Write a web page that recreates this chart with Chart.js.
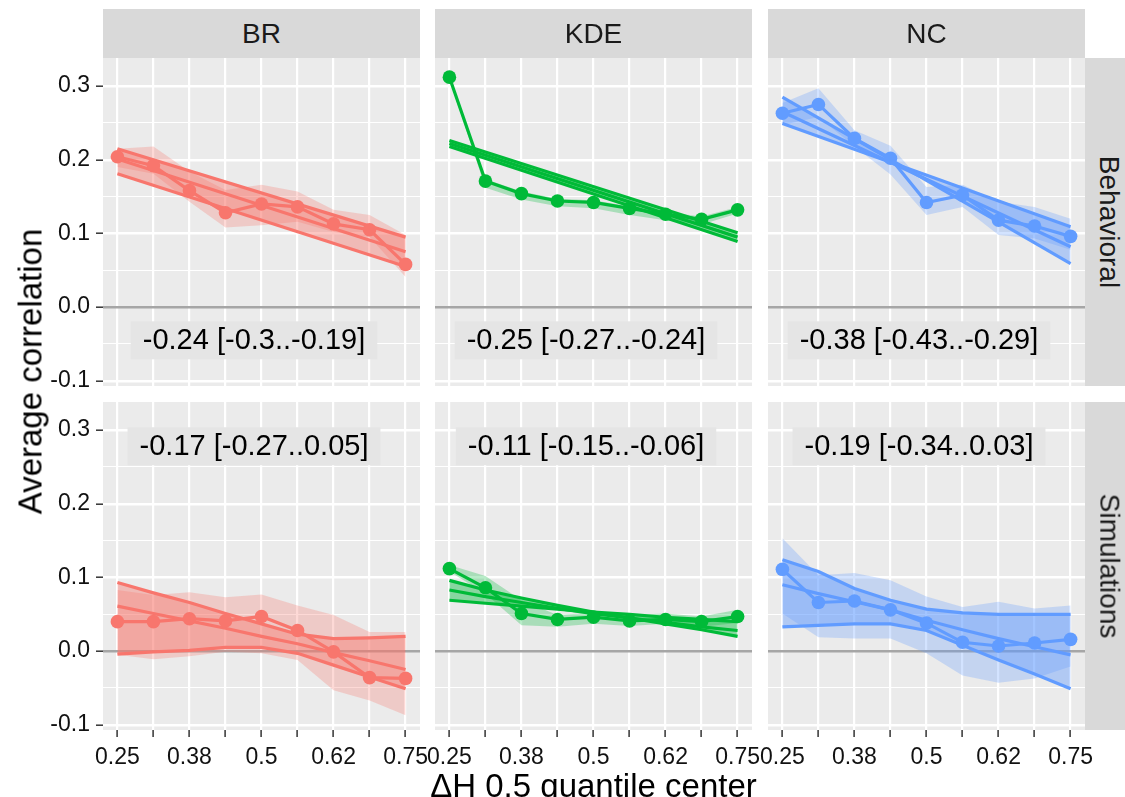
<!DOCTYPE html>
<html>
<head>
<meta charset="utf-8">
<script src="https://cdn.jsdelivr.net/npm/chart.js@4.4.0/dist/chart.umd.min.js"></script>
<style>
html, body { margin: 0; padding: 0; background: #fff; overflow: hidden; width: 1125px; height: 797px; }
body { position: relative; font-family: "Liberation Sans", Arial, Helvetica, sans-serif; }
.panel { position: absolute; }
.strip { position: absolute; background: #d9d9d9; color: #1a1a1a; font-size: 28px;
         display: flex; align-items: center; justify-content: center; }
.strip span { white-space: nowrap; }
.rstrip span { transform: rotate(90deg); }
.title { position: absolute; color: #000; font-size: 33px; white-space: nowrap; line-height: 33px; }
</style>
</head>
<body>
<div id="root"></div>
<script>
// x positions: centers of the 0.5 quantile windows
const xValues = [0.25, 0.3125, 0.375, 0.4375, 0.5, 0.5625, 0.625, 0.6875, 0.75];
const xTickLabels = ['0.25', '', '0.38', '', '0.5', '', '0.62', '', '0.75'];
const xFitEnds = [0.25, 0.75];
const yTicks = [-0.1, -0.05, 0, 0.05, 0.1, 0.15, 0.2, 0.25, 0.3];
const yTickLabels = ['-0.1', '', '0.0', '', '0.1', '', '0.2', '', '0.3'];
const methods = ['BR', 'KDE', 'NC'];
const sources = ['Behavioral', 'Simulations'];
const colors = ['#F8766D', '#00BA38', '#619CFF'];

// Behavioral
const brBehMean = [0.204, 0.192, 0.158, 0.128, 0.140, 0.136, 0.113, 0.105, 0.058];
const brBehHi   = [0.215, 0.218, 0.184, 0.159, 0.166, 0.157, 0.132, 0.125, 0.098];
const brBehLo   = [0.190, 0.181, 0.143, 0.108, 0.111, 0.116, 0.102, 0.095, 0.041];
const brBehFitA = [0.215, 0.095];
const brBehFitB = [0.201, 0.075];
const brBehFitC = [0.181, 0.055];

const kdeBehMean = [0.312, 0.171, 0.154, 0.144, 0.142, 0.134, 0.126, 0.119, 0.132];
const kdeBehHi   = [0.314, 0.174, 0.157, 0.147, 0.145, 0.137, 0.129, 0.123, 0.136];
const kdeBehLo   = [0.309, 0.162, 0.146, 0.137, 0.134, 0.125, 0.118, 0.112, 0.127];
const kdeBehFitA = [0.226, 0.101];
const kdeBehFitB = [0.222, 0.095];
const kdeBehFitC = [0.218, 0.089];

const ncBehMean = [0.263, 0.275, 0.229, 0.202, 0.142, 0.152, 0.118, 0.110, 0.096];
const ncBehHi   = [0.277, 0.297, 0.240, 0.219, 0.163, 0.166, 0.143, 0.136, 0.120];
const ncBehLo   = [0.247, 0.258, 0.218, 0.180, 0.125, 0.136, 0.098, 0.093, 0.078];
const ncBehFitA = [0.285, 0.059];
const ncBehFitB = [0.265, 0.082];
const ncBehFitC = [0.249, 0.109];

// Simulations
const brSimMean = [0.040, 0.040, 0.044, 0.041, 0.047, 0.028, -0.001, -0.036, -0.037];
const brSimHi   = [0.083, 0.076, 0.080, 0.073, 0.077, 0.062, 0.049, 0.026, 0.026];
const brSimLo   = [-0.005, -0.011, -0.007, -0.001, -0.003, -0.012, -0.053, -0.067, -0.087];
const brSimFitA = [0.093, 0.079, 0.066, 0.051, 0.037, 0.023, 0.017, 0.018, 0.020];
const brSimFitB = [0.061, 0.051, 0.041, 0.031, 0.020, 0.010, -0.002, -0.013, -0.025];
const brSimFitC = [-0.004, -0.001, 0.001, 0.005, 0.005, -0.003, -0.019, -0.035, -0.051];

const kdeSimMean = [0.112, 0.086, 0.051, 0.043, 0.046, 0.041, 0.043, 0.040, 0.047];
const kdeSimHi   = [0.117, 0.102, 0.069, 0.049, 0.052, 0.049, 0.051, 0.047, 0.056];
const kdeSimLo   = [0.108, 0.078, 0.035, 0.033, 0.037, 0.034, 0.037, 0.033, 0.038];
const kdeSimFitA = [0.096, 0.083, 0.072, 0.062, 0.053, 0.045, 0.037, 0.029, 0.020];
const kdeSimFitB = [0.083, 0.074, 0.066, 0.058, 0.051, 0.045, 0.039, 0.033, 0.028];
const kdeSimFitC = [0.069, 0.065, 0.061, 0.057, 0.053, 0.050, 0.046, 0.043, 0.040];

const ncSimMean = [0.111, 0.066, 0.068, 0.056, 0.038, 0.012, 0.007, 0.011, 0.016];
const ncSimHi   = [0.153, 0.103, 0.106, 0.096, 0.074, 0.060, 0.067, 0.058, 0.062];
const ncSimLo   = [0.051, 0.019, 0.017, 0.017, -0.003, -0.033, -0.043, -0.037, -0.021];
const ncSimFitA = [0.124, 0.108, 0.085, 0.069, 0.057, 0.052, 0.050, 0.050, 0.050];
const ncSimFitB = [0.090, 0.078, 0.067, 0.056, 0.042, 0.029, 0.017, 0.006, -0.005];
const ncSimFitC = [0.033, 0.035, 0.037, 0.037, 0.028, 0.008, -0.012, -0.031, -0.051];

const slopeLabels = [
  '-0.24 [-0.3..-0.19]', '-0.25 [-0.27..-0.24]', '-0.38 [-0.43..-0.29]',
  '-0.17 [-0.27..0.05]', '-0.11 [-0.15..-0.06]', '-0.19 [-0.34..0.03]'
];
const labelX = 0.487;
const labelY = [-0.045, 0.278];

const panels = [
  { col: 0, row: 0, mean: brBehMean, hi: brBehHi, lo: brBehLo, fitX: xFitEnds, fit: [brBehFitA, brBehFitB, brBehFitC] },
  { col: 1, row: 0, mean: kdeBehMean, hi: kdeBehHi, lo: kdeBehLo, fitX: xFitEnds, fit: [kdeBehFitA, kdeBehFitB, kdeBehFitC] },
  { col: 2, row: 0, mean: ncBehMean, hi: ncBehHi, lo: ncBehLo, fitX: xFitEnds, fit: [ncBehFitA, ncBehFitB, ncBehFitC] },
  { col: 0, row: 1, mean: brSimMean, hi: brSimHi, lo: brSimLo, fitX: xValues, fit: [brSimFitA, brSimFitB, brSimFitC] },
  { col: 1, row: 1, mean: kdeSimMean, hi: kdeSimHi, lo: kdeSimLo, fitX: xValues, fit: [kdeSimFitA, kdeSimFitB, kdeSimFitC] },
  { col: 2, row: 1, mean: ncSimMean, hi: ncSimHi, lo: ncSimLo, fitX: xValues, fit: [ncSimFitA, ncSimFitB, ncSimFitC] }
];

// layout of the facet grid
const panelLeft = [103, 435, 768];
const panelTop = [58, 402];
const panelW = 317, panelH = 328;
const FONT = '"Liberation Sans", Arial, Helvetica, sans-serif';
Chart.defaults.font.family = FONT;

const root = document.getElementById('root');

function rgba(hex, a) {
  const n = parseInt(hex.slice(1), 16);
  return 'rgba(' + (n >> 16) + ',' + ((n >> 8) & 255) + ',' + (n & 255) + ',' + a + ')';
}
function pts(xs, ys) { return ys.map((y, i) => ({ x: xs[i], y: y })); }
function isMajor(v) { return Math.abs(v * 10 - Math.round(v * 10)) < 1e-6; }

const panelDecor = {
  id: 'panelDecor',
  beforeDraw(chart) {
    const a = chart.chartArea, ctx = chart.ctx;
    ctx.save();
    ctx.fillStyle = '#ebebeb';
    ctx.fillRect(a.left, a.top, a.right - a.left, a.bottom - a.top);
    ctx.restore();
  },
  beforeDatasetsDraw(chart, args, opts) {
    const ctx = chart.ctx;
    const px = chart.scales.x.getPixelForValue(opts.x);
    const py = chart.scales.y.getPixelForValue(opts.y);
    ctx.save();
    ctx.font = '29px ' + FONT;
    const w = ctx.measureText(opts.text).width;
    ctx.fillStyle = '#e5e5e5';
    ctx.fillRect(px - w / 2 - 12, py - 19, w + 24, 38);
    ctx.fillStyle = '#000';
    ctx.textAlign = 'center';
    ctx.textBaseline = 'middle';
    ctx.fillText(opts.text, px, py + 1);
    ctx.restore();
  }
};

panels.forEach((p, k) => {
  const isLeft = p.col === 0, isBottom = p.row === 1;
  const padL = isLeft ? 103 : 30, padR = 30, padT = 30, padB = isBottom ? 60 : 30;
  const wrap = document.createElement('div');
  wrap.className = 'panel';
  wrap.style.left = (panelLeft[p.col] - padL) + 'px';
  wrap.style.top = (panelTop[p.row] - padT) + 'px';
  wrap.style.width = (padL + panelW + padR) + 'px';
  wrap.style.height = (padT + panelH + padB) + 'px';
  const cv = document.createElement('canvas');
  wrap.appendChild(cv);
  root.appendChild(wrap);

  const c = colors[p.col];
  const fitLine = ys => ({ data: pts(p.fitX, ys), borderColor: c, borderWidth: 3.2, pointRadius: 0, fill: false, order: 1 });
  const fitUpper = fitLine(p.fit[0]);
  fitUpper.fill = { target: 3, above: rgba(c, 0.42), below: rgba(c, 0.42) };

  new Chart(cv, {
    type: 'line',
    data: {
      datasets: [
        { data: pts(xValues, p.mean), borderColor: c, backgroundColor: c, borderWidth: 3.2,
          pointRadius: 6.8, pointBorderWidth: 0, pointBackgroundColor: c, fill: false, order: 0 },
        fitUpper,
        fitLine(p.fit[1]),
        fitLine(p.fit[2]),
        { data: pts(xValues, p.hi), borderWidth: 0, pointRadius: 0, order: 3,
          fill: { target: 5, above: rgba(c, 0.28), below: rgba(c, 0.28) } },
        { data: pts(xValues, p.lo), borderWidth: 0, pointRadius: 0, fill: false, order: 3 }
      ]
    },
    options: {
      responsive: true,
      maintainAspectRatio: false,
      animation: false,
      events: [],
      layout: { autoPadding: false, padding: { top: padT, right: padR, bottom: isBottom ? 0 : padB, left: 0 } },
      plugins: {
        legend: { display: false },
        tooltip: { enabled: false },
        panelDecor: { text: slopeLabels[k], x: labelX, y: labelY[p.row] }
      },
      scales: {
        x: {
          type: 'linear', min: 0.225, max: 0.775,
          afterBuildTicks: s => { s.ticks = xValues.map(v => ({ value: v })); },
          afterFit: s => { s.height = isBottom ? padB : 0; },
          ticks: { display: isBottom, autoSkip: false, maxRotation: 0, color: '#111',
                   font: { size: 23 }, padding: 7, callback: (v, i) => xTickLabels[i] },
          grid: { color: '#fff', lineWidth: 2.2, drawTicks: isBottom, tickLength: 7,
                  tickColor: '#333', tickWidth: 1.5 },
          border: { display: false }
        },
        y: {
          min: -0.107, max: 0.338,
          afterBuildTicks: s => { s.ticks = yTicks.map(v => ({ value: v })); },
          afterFit: s => { s.width = padL; },
          ticks: { display: isLeft, autoSkip: false, color: '#111', font: { size: 23 }, padding: 6,
                   callback: (v, i) => yTickLabels[i] },
          grid: {
            z: -0.5,
            color: ctx => (ctx.tick && Math.abs(ctx.tick.value) < 1e-9) ? '#a6a6a6' : '#fff',
            lineWidth: ctx => (ctx.tick && isMajor(ctx.tick.value)) ? 2.4 : 1.1,
            drawTicks: isLeft, tickLength: 7, tickWidth: 1.5,
            tickColor: ctx => (ctx.tick && isMajor(ctx.tick.value)) ? '#333' : 'rgba(0,0,0,0)'
          },
          border: { display: false }
        }
      }
    },
    plugins: [panelDecor]
  });
});

// facet strips
methods.forEach((m, i) => {
  const d = document.createElement('div');
  d.className = 'strip';
  d.style.left = panelLeft[i] + 'px';
  d.style.top = '9px';
  d.style.width = panelW + 'px';
  d.style.height = '49px';
  d.innerHTML = '<span>' + m + '</span>';
  root.appendChild(d);
});
sources.forEach((s, j) => {
  const d = document.createElement('div');
  d.className = 'strip rstrip';
  d.style.left = '1085px';
  d.style.top = panelTop[j] + 'px';
  d.style.width = '49px';
  d.style.height = panelH + 'px';
  d.innerHTML = '<span>' + s + '</span>';
  root.appendChild(d);
});

// axis titles
const xt = document.createElement('div');
xt.className = 'title';
xt.textContent = 'ΔH 0.5 quantile center';
xt.style.left = '0px'; xt.style.width = '1187px'; xt.style.textAlign = 'center';
xt.style.top = '769px';
root.appendChild(xt);

const yt = document.createElement('div');
yt.className = 'title';
yt.textContent = 'Average correlation';
yt.style.left = (30 - 200) + 'px'; yt.style.width = '400px'; yt.style.textAlign = 'center';
yt.style.top = (371 - 16.5) + 'px';
yt.style.transform = 'rotate(-90deg)';
root.appendChild(yt);
</script>
</body>
</html>
